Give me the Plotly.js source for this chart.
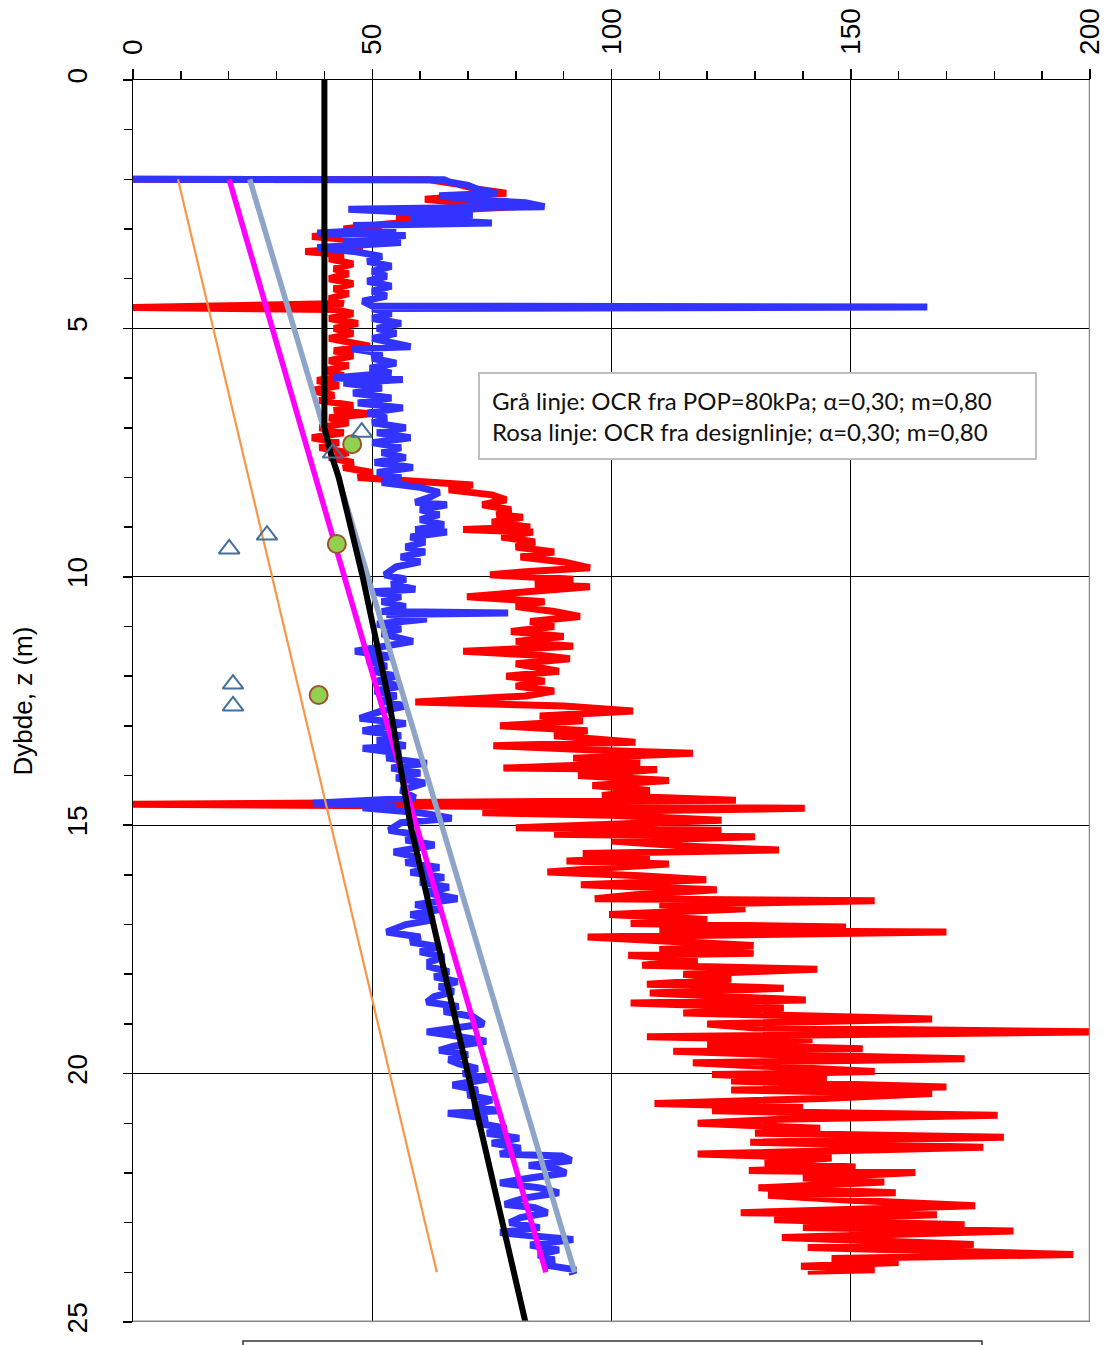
<!DOCTYPE html>
<html>
<head>
<meta charset="utf-8">
<script src="https://cdn.plot.ly/plotly-3.0.1.min.js"></script>
<style>html,body{margin:0;padding:0;background:#fff;}#chart{width:1108px;height:1345px;}</style>
</head>
<body>
<div id="chart"></div>
<script>
// Blue profile (depth m, value)
const blueDepth = [2.00,2.01,2.05,2.12,2.20,2.28,2.33,2.40,2.47,2.55,2.60,2.66,2.72,2.80,2.88,2.93,3.00,3.08,3.13,3.20,3.27,3.37,3.45,3.55,3.65,3.75,3.85,3.95,4.05,4.15,4.25,4.35,4.45,4.55,4.57,4.60,4.70,4.80,4.90,5.00,5.10,5.20,5.30,5.37,5.41,5.50,5.60,5.70,5.80,5.90,6.00,6.03,6.10,6.20,6.30,6.40,6.50,6.60,6.70,6.80,6.90,7.00,7.10,7.20,7.30,7.40,7.50,7.60,7.70,7.80,7.90,8.00,8.10,8.20,8.30,8.40,8.50,8.55,8.65,8.75,8.85,8.95,9.05,9.10,9.20,9.30,9.40,9.50,9.60,9.70,9.80,9.96,10.05,10.15,10.25,10.30,10.40,10.50,10.60,10.70,10.73,10.76,10.85,10.95,11.05,11.15,11.30,11.40,11.50,11.60,11.70,11.80,11.90,12.00,12.10,12.20,12.30,12.40,12.50,12.60,12.70,12.85,12.95,13.05,13.10,13.20,13.30,13.40,13.45,13.55,13.65,13.75,13.85,13.95,14.05,14.15,14.30,14.45,14.56,14.58,14.65,14.75,14.86,14.95,15.10,15.20,15.30,15.40,15.54,15.65,15.75,15.85,15.95,16.05,16.15,16.25,16.35,16.48,16.60,16.70,16.80,16.90,17.00,17.15,17.25,17.35,17.45,17.55,17.65,17.75,17.85,17.95,18.05,18.15,18.25,18.35,18.45,18.56,18.65,18.75,18.85,19.00,19.08,19.16,19.25,19.35,19.45,19.53,19.62,19.72,19.80,19.90,20.00,20.10,20.23,20.33,20.43,20.53,20.65,20.75,20.80,20.90,21.00,21.10,21.20,21.30,21.40,21.50,21.62,21.66,21.75,21.85,21.90,22.00,22.10,22.20,22.30,22.40,22.50,22.63,22.70,22.80,22.90,23.00,23.10,23.20,23.30,23.34,23.45,23.55,23.65,23.75,23.85,23.95,24.00];
const blueVal = [0,65,66,70,72,76,64,70,82,86,45,62,71,58,75,46,55,38.5,57,44,56,38.5,46,52,49,54,50,53,49,54,50,53,48,50,166,50,54,50,56,51,55,50,54,58,45.8,52,50,55,49.5,54,41.8,56.4,44,52,46,54,47,56.4,49,53,50,57,51,58,50,56,52,57,50.5,58.5,51,56,52,60,64,62,59,65.6,60,64,60,65,59,65.6,58,61,57,61,56,60,55,52.6,57,54,59,50,56,52,57,52,78.4,53,61.4,51,56,52,58.5,52,46.4,54,49,53,50,55,51,56,50.5,55,52,57,52,47.4,57,51,48,56,51,57,48,56,53,61.4,54,60,55,61,56,59,37.6,55,48,60,66.6,56,53.5,60,57,63,54.5,60,57,64,58,65,60,66,61,67.8,59,64,58,63,57,53,60,58,64,60,65,62,62,66,63,67.8,64,67,63,61.4,68,65,71,73.3,66,61.4,68,73.8,67,64,70,66,68,72,69,74.8,66.8,72,70,75,71,76.7,65.8,74,72,78,74,80.7,75,81,76.7,89.6,91.6,82.7,88,90.5,83,76.7,85,89,82,77.7,84,86.6,81,78.7,85,76.7,87,92,83,89,84.7,88,86,92.6,91];

// Red profile (depth m, value)
const redDepth = [2.00,2.01,2.10,2.20,2.28,2.35,2.40,2.48,2.55,2.62,2.70,2.78,2.85,2.90,3.00,3.05,3.15,3.22,3.30,3.38,3.45,3.52,3.60,3.70,3.80,3.90,4.00,4.10,4.20,4.30,4.40,4.50,4.58,4.62,4.70,4.80,4.90,5.00,5.10,5.20,5.30,5.36,5.45,5.55,5.65,5.75,5.85,5.95,6.05,6.15,6.25,6.35,6.45,6.55,6.65,6.72,6.80,6.90,7.00,7.10,7.20,7.30,7.40,7.50,7.60,7.70,7.80,7.90,8.00,8.05,8.10,8.15,8.25,8.35,8.45,8.55,8.65,8.75,8.80,8.90,9.00,9.05,9.10,9.20,9.30,9.40,9.50,9.60,9.70,9.82,9.90,9.96,10.05,10.15,10.20,10.30,10.40,10.50,10.60,10.70,10.80,10.90,11.00,11.10,11.20,11.30,11.40,11.50,11.58,11.65,11.75,11.90,12.00,12.10,12.20,12.30,12.40,12.52,12.60,12.70,12.80,12.90,13.00,13.10,13.20,13.33,13.40,13.50,13.55,13.65,13.75,13.85,13.88,14.00,14.10,14.20,14.30,14.40,14.50,14.58,14.62,14.66,14.75,14.80,14.90,15.00,15.05,15.10,15.18,15.23,15.32,15.42,15.50,15.57,15.65,15.72,15.78,15.85,15.94,16.02,16.10,16.20,16.30,16.40,16.48,16.52,16.60,16.68,16.80,16.90,16.98,17.05,17.12,17.15,17.25,17.35,17.42,17.50,17.58,17.62,17.72,17.82,17.90,18.00,18.10,18.20,18.28,18.38,18.45,18.52,18.58,18.68,18.78,18.90,19.00,19.08,19.16,19.26,19.32,19.42,19.50,19.55,19.62,19.70,19.78,19.88,19.96,20.02,20.10,20.15,20.27,20.33,20.40,20.50,20.60,20.68,20.75,20.84,20.92,21.00,21.10,21.20,21.28,21.38,21.48,21.62,21.70,21.80,21.88,21.95,21.99,22.10,22.18,22.30,22.40,22.45,22.55,22.66,22.80,22.84,22.94,23.04,23.10,23.17,23.30,23.44,23.50,23.64,23.72,23.80,23.88,23.95,23.98];
const redVal = [0,62,68,72,78,68,61,70,80,66,70,55,60,53,44,52,37.4,46,43,48,36,44,41,46,42,45,41,46,42,45,41,44,0,42,46,41,47,42,46,41,47,49.5,42,46,41,45,40,44,38.5,43,37.4,42,39,46,42,49.5,41,45,39,44,37.4,43,39,45,41,46,44,50,47,55,62,71,66,75,78,73,79,76,81.5,75,83,69,83.6,77,84,80,88,81,90,95.5,82,74.6,92,84,95.5,82,69.8,86,80,88,93.4,83,88,79,90,80,92,69,85,91.3,80,89,78,86,80,88,82,59,90,104.5,85,94,76.7,95,88,105,75.3,100,117,92,106,77.4,109.5,93,112,96,108,98,126,0,110,140.4,73,100,123,95,80,123,88,130,100,115,135,94,108,90.6,112,100,86.6,106,119.8,93.6,122,105,96.5,155,110,128,99.5,120,104,149,110,170,95,115,129.7,110,129.7,103.5,118,106.4,143,115,125,107.4,136,108,125,140.6,104,136,115,167,120,130,200.5,107.4,142,120,152.5,112.9,135,173.8,117,140,155,121,145,125,170,125,167,144,109,140,121,180.7,135,118,143.6,130,182,129,177.7,118,146,132,151,128.7,163.5,140,157,130.7,159.4,132.7,150,176,127,168,134,173.8,140,184,135.6,175.7,141,196.5,146,160,139.6,155,141];

// Black line
const blackDepth = [0,7.0,7.5,8.0,10.0,12.5,15.0,17.5,20.0,22.5,25.0];
const blackVal = [40,40,41.3,43,48,53.5,58,64,70,76,82];
// Magenta line (Rosa linje)
const magentaDepth = [2.0,24.0];
const magentaVal = [20.1,86.3];
// Gray line (Grå linje)
const grayDepth = [2.0,24.0];
const grayVal = [24.4,92.3];
// Orange line
const orangeDepth = [2.0,24.0];
const orangeVal = [9.4,63.5];
// Green circles
const circleDepth = [7.33,9.34,12.38];
const circleVal = [45.8,42.6,38.8];
// Open triangles
const triDepth = [7.09,7.51,9.16,9.44,12.16,12.60];
const triVal = [47.8,41.8,28.0,20.1,20.9,20.9];

const xTicks = [0,50,100,150,200];
const yTicks = [0,5,10,15,20,25];
const yTitle = 'Dybde, z (m)';
const noteText = 'Grå linje: OCR fra POP=80kPa; α=0,30; m=0,80<br>Rosa linje: OCR fra designlinje; α=0,30; m=0,80';

const traces = [
  {x: redVal, y: redDepth, mode:'lines', line:{color:'#FF0000', width:7}},
  {x: blueVal, y: blueDepth, mode:'lines', line:{color:'#3333FF', width:7}},
  {x: orangeVal, y: orangeDepth, mode:'lines', line:{color:'#F79646', width:2.2}},
  {x: grayVal, y: grayDepth, mode:'lines', line:{color:'#8EA5C9', width:5.5}},
  {x: magentaVal, y: magentaDepth, mode:'lines', line:{color:'#FF00FF', width:5.5}},
  {x: blackVal, y: blackDepth, mode:'lines', line:{color:'#000000', width:6}},
  {x: circleVal, y: circleDepth, mode:'markers', marker:{symbol:'circle', size:18, color:'#92D050', line:{color:'#A0522D', width:2}}},
  {x: triVal, y: triDepth, mode:'markers', marker:{symbol:'triangle-up-open', size:18, color:'#41719C', line:{color:'#41719C', width:2}}}
];

const font = {family:'"Liberation Sans", Arial, sans-serif', color:'#000'};

const layout = {
  width:1108, height:1345,
  margin:{l:133, r:18, t:80, b:23},
  paper_bgcolor:'#fff', plot_bgcolor:'#fff',
  showlegend:false,
  hovermode:false,
  font: font,
  xaxis:{
    side:'top', range:[0,200], tickvals:xTicks, ticktext:xTicks.map(String),
    tickangle:-90, tickfont:{size:28, family:font.family, color:'#000'},
    ticks:'outside', ticklen:10, tickwidth:1.5, tickcolor:'#000',
    minor:{dtick:10, ticks:'outside', ticklen:8, tickwidth:1.5, tickcolor:'#000', showgrid:false},
    showgrid:true, gridcolor:'#000', gridwidth:1,
    showline:true, linecolor:'#000', linewidth:1.5, zeroline:false,
    ticklabelstandoff:8, fixedrange:true
  },
  yaxis:{
    range:[25,0], tickvals:yTicks, ticktext:yTicks.map(String),
    tickangle:-90, tickfont:{size:28, family:font.family, color:'#000'},
    ticks:'outside', ticklen:9, tickwidth:1.5, tickcolor:'#000',
    minor:{dtick:1, ticks:'outside', ticklen:8, tickwidth:1.5, tickcolor:'#000', showgrid:false},
    showgrid:true, gridcolor:'#000', gridwidth:1,
    showline:true, linecolor:'#000', linewidth:1.5, zeroline:false,
    ticklabelstandoff:24,
    title:{text:yTitle, font:{size:26, family:font.family, color:'#000'}, standoff:22},
    fixedrange:true
  },
  shapes:[
    {type:'line', xref:'x', yref:'y', x0:200, x1:200, y0:0, y1:25, line:{color:'#888', width:2.5}},
    {type:'line', xref:'x', yref:'y', x0:0, x1:200, y0:25, y1:25, line:{color:'#888', width:3}},
    {type:'rect', xref:'paper', yref:'paper', x0:(243-133)/957, x1:(982-133)/957, y0:-0.2, y1:-0.0153, line:{color:'#333', width:1.5}, fillcolor:'rgba(0,0,0,0)'}
  ],
  annotations:[
    {xref:'paper', yref:'paper', x:(478-133)/957, y:(1322-372)/1242, xanchor:'left', yanchor:'top',
     text: noteText, showarrow:false, align:'left', width:531,
     font:{size:24, family:'Lato, "Liberation Sans", sans-serif', color:'#111'},
     bgcolor:'#fff', bordercolor:'#BFBFBF', borderwidth:2, borderpad:12}
  ]
};

Plotly.newPlot('chart', traces, layout, {displayModeBar:false, staticPlot:true});
</script>
</body>
</html>
